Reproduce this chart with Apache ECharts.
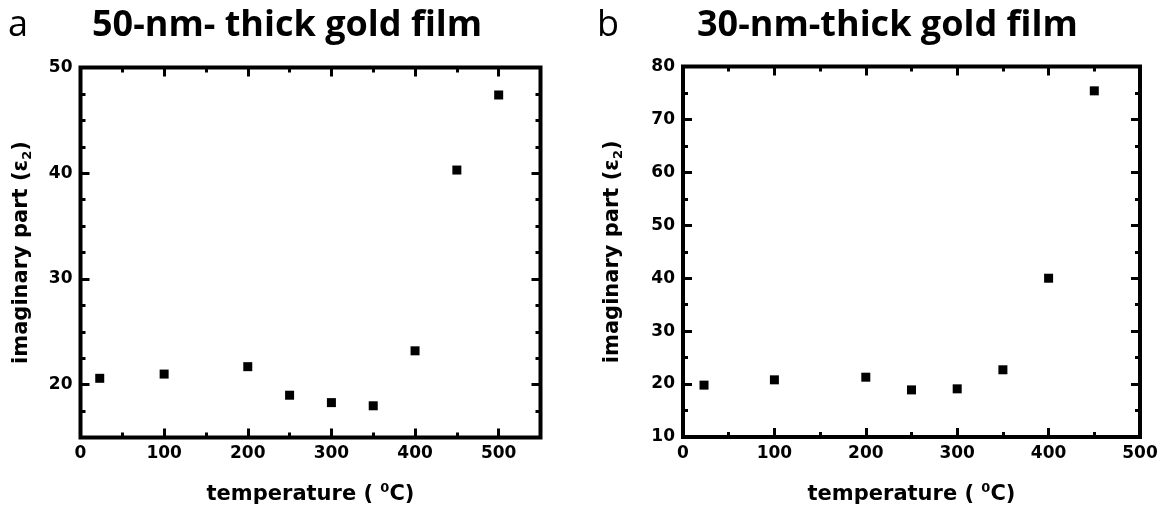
<!DOCTYPE html>
<html>
<head>
<meta charset="utf-8">
<title>Permittivity of gold films vs temperature</title>
<script src="https://cdn.jsdelivr.net/npm/echarts@6/dist/echarts.min.js"></script>
<style>
  html, body { margin: 0; padding: 0; background: #fff; }
  #chart { width: 1164px; height: 514px; }
</style>
</head>
<body>
<div id="chart"></div>
<script>
// Panel a: 50-nm-thick gold film
const tempA = [23, 100, 200, 250, 300, 350, 400, 450, 500];
const epsA  = [20.6, 21.0, 21.7, 19.0, 18.3, 18.0, 23.2, 40.3, 47.4];

// Panel b: 30-nm-thick gold film
const tempB = [23, 100, 200, 250, 300, 350, 400, 450];
const epsB  = [19.8, 20.8, 21.3, 18.9, 19.1, 22.7, 40.0, 75.4];

// Axis ranges and ticks
const xRangeA = [0, 550];
const xMajorA = [0, 100, 200, 300, 400, 500];
const xMinorA = [50, 150, 250, 350, 450];
const yRangeA = [15, 50];
const yMajorA = [20, 30, 40, 50];
const yMinorA = [17.5, 22.5, 25, 27.5, 32.5, 35, 37.5, 42.5, 45, 47.5];

const xRangeB = [0, 500];
const xMajorB = [0, 100, 200, 300, 400, 500];
const xMinorB = [50, 150, 250, 350, 450];
const yRangeB = [10, 80];
const yMajorB = [10, 20, 30, 40, 50, 60, 70, 80];
const yMinorB = [15, 25, 35, 45, 55, 65, 75];

const titleA = '50-nm- thick gold film';
const titleB = '30-nm-thick gold film';

const tickFont = 'DejaVu Sans';
const nameFont = 'DejaVu Sans';
const titleFont = 'Open Sans';

const xName = '{n|temperature ( }{sup|0}{n|C)}';
const yName = '{n|imaginary part (ε}{sub|2}{n|)}';

const nameRich = {
  n: { fontFamily: nameFont, fontWeight: 'bold', fontSize: 21, color: '#000', lineHeight: 25 },
  sup: { fontFamily: nameFont, fontWeight: 'bold', fontSize: 13, color: '#000', verticalAlign: 'top', lineHeight: 25 },
  sub: { fontFamily: nameFont, fontWeight: 'bold', fontSize: 13, color: '#000', verticalAlign: 'bottom', lineHeight: 25 }
};

function tickAxis(gridIndex, range, position, values, len, labeled, extra) {
  return Object.assign({
    type: 'value',
    gridIndex: gridIndex,
    position: position,
    min: range[0],
    max: range[1],
    axisLine: { show: false, onZero: false },
    splitLine: { show: false },
    axisTick: {
      show: true, inside: true, length: len, customValues: values,
      lineStyle: { color: '#000', width: 3 }
    },
    axisLabel: labeled ? {
      show: true, customValues: values, margin: 8,
      fontFamily: tickFont, fontWeight: 'bold', fontSize: 17, color: '#000'
    } : { show: false }
  }, extra || {});
}

function xAxesFor(g, range, major, minor) {
  return [
    tickAxis(g, range, 'bottom', major, 9, true, {
      name: xName, nameLocation: 'middle', nameGap: 45,
      nameTextStyle: { rich: nameRich }
    }),
    tickAxis(g, range, 'bottom', minor, 5, false),
    tickAxis(g, range, 'top', major, 9, false),
    tickAxis(g, range, 'top', minor, 5, false)
  ];
}

function yAxesFor(g, range, major, minor, nameGap) {
  return [
    tickAxis(g, range, 'left', major, 9, true, {
      name: yName, nameLocation: 'middle', nameGap: nameGap,
      nameTextStyle: { rich: nameRich }
    }),
    tickAxis(g, range, 'left', minor, 5, false),
    tickAxis(g, range, 'right', major, 9, false),
    tickAxis(g, range, 'right', minor, 5, false)
  ];
}

const chart = echarts.init(document.getElementById('chart'), null, { renderer: 'canvas' });

const titleStyleBold = { fontFamily: titleFont, fontWeight: 'bold', fontSize: 36, color: '#000' };
const titleStyleLetter = { fontFamily: titleFont, fontWeight: 'normal', fontSize: 36, color: '#000' };

chart.setOption({
  backgroundColor: '#fff',
  animation: false,
  title: [
    { text: 'a', left: 8, top: 8, padding: 0, textStyle: titleStyleLetter },
    { text: titleA, left: 92, top: 8, padding: 0, textStyle: titleStyleBold },
    { text: 'b', left: 597, top: 8, padding: 0, textStyle: titleStyleLetter },
    { text: titleB, left: 697, top: 8, padding: 0, textStyle: titleStyleBold }
  ],
  grid: [
    { left: 80.5, top: 67.5, width: 460, height: 370, show: true, borderColor: '#000', borderWidth: 4, backgroundColor: 'transparent' },
    { left: 683, top: 66.5, width: 457, height: 370.5, show: true, borderColor: '#000', borderWidth: 4, backgroundColor: 'transparent' }
  ],
  xAxis: [].concat(
    xAxesFor(0, xRangeA, xMajorA, xMinorA),
    xAxesFor(1, xRangeB, xMajorB, xMinorB)
  ),
  yAxis: [].concat(
    yAxesFor(0, yRangeA, yMajorA, yMinorA, 46),
    yAxesFor(1, yRangeB, yMajorB, yMinorB, 58)
  ),
  series: [
    {
      type: 'scatter', xAxisIndex: 0, yAxisIndex: 0,
      symbol: 'rect', symbolSize: 9,
      itemStyle: { color: '#000', opacity: 1 },
      data: tempA.map((t, i) => [t, epsA[i]])
    },
    {
      type: 'scatter', xAxisIndex: 4, yAxisIndex: 4,
      symbol: 'rect', symbolSize: 9,
      itemStyle: { color: '#000', opacity: 1 },
      data: tempB.map((t, i) => [t, epsB[i]])
    }
  ]
});
</script>
</body>
</html>
